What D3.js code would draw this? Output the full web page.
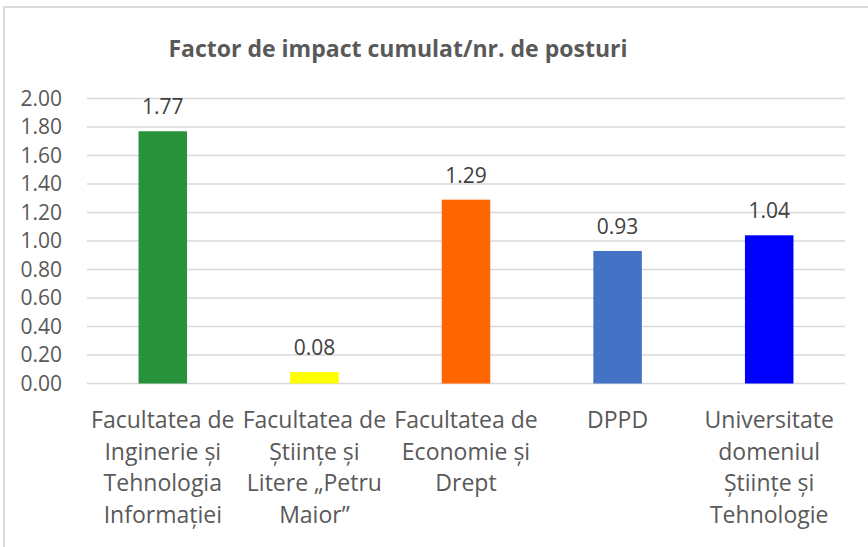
<html>
<head>
<meta charset="utf-8">
<script src="https://d3js.org/d3.v7.min.js"></script>
<style>
  body { margin: 0; background: #fff; }
  svg { display: block; }
  text { font-family: "Open Sans", Lato, sans-serif; }
</style>
</head>
<body>
<svg id="chart" width="868" height="547"></svg>
<script>
// data
const categories = [
  ["Facultatea de", "Inginerie și", "Tehnologia", "Informației"],
  ["Facultatea de", "Științe și", "Litere „Petru", "Maior”"],
  ["Facultatea de", "Economie și", "Drept"],
  ["DPPD"],
  ["Universitate", "domeniul", "Științe și", "Tehnologie"]
];
const values = [1.77, 0.08, 1.29, 0.93, 1.04];
const barColors = ["#27923a", "#ffff00", "#ff6600", "#4472c4", "#0000ff"];
const yTicks = [0, 0.2, 0.4, 0.6, 0.8, 1.0, 1.2, 1.4, 1.6, 1.8, 2.0];
const title = "Factor de impact cumulat/nr. de posturi";

const FONT = "'Open Sans', Lato, sans-serif";
const svg = d3.select("#chart");
const plot = { left: 87, right: 845, top: 98.5, bottom: 383.5 };

// chart frame (runs off right/bottom like the screenshot)
svg.append("rect")
  .attr("x", 4).attr("y", 7)
  .attr("width", 900).attr("height", 600)
  .attr("fill", "#fff")
  .attr("stroke", "#d9d9d9")
  .attr("stroke-width", 2);

const x = d3.scaleBand()
  .domain(d3.range(values.length))
  .range([plot.left, plot.right])
  .paddingInner(0.68)
  .paddingOuter(0.34);

const y = d3.scaleLinear()
  .domain([0, 2])
  .range([plot.bottom, plot.top]);

// gridlines
svg.append("g")
  .selectAll("line")
  .data(yTicks)
  .join("line")
  .attr("x1", plot.left).attr("x2", plot.right)
  .attr("y1", d => y(d)).attr("y2", d => y(d))
  .attr("stroke", "#d9d9d9")
  .attr("stroke-width", 1.5);

// y axis labels
const yAxis = d3.axisLeft(y).tickValues(yTicks).tickFormat(d3.format(".2f")).tickSize(0).tickPadding(0);
svg.append("g")
  .attr("transform", "translate(62,0)")
  .call(yAxis)
  .attr("font-family", FONT)
  .attr("font-size", 21)
  .call(g => g.select(".domain").remove())
  .selectAll("text")
  .attr("fill", "#595959");

// bars
svg.append("g")
  .selectAll("rect")
  .data(values)
  .join("rect")
  .attr("x", (d, i) => x(i))
  .attr("width", x.bandwidth())
  .attr("y", d => y(d))
  .attr("height", d => y(0) - y(d))
  .attr("fill", (d, i) => barColors[i]);

// data labels
svg.append("g")
  .selectAll("text")
  .data(values)
  .join("text")
  .attr("x", (d, i) => x(i) + x.bandwidth() / 2)
  .attr("y", d => y(d) - 17)
  .attr("text-anchor", "middle")
  .attr("fill", "#404040")
  .attr("font-size", 21)
  .text(d => d3.format(".2f")(d));

// category labels
const cat = svg.append("g")
  .selectAll("text")
  .data(categories)
  .join("text")
  .attr("text-anchor", "middle")
  .attr("fill", "#595959")
  .attr("font-size", 23);
cat.selectAll("tspan")
  .data((d, i) => d.map(line => ({ line, i })))
  .join("tspan")
  .attr("x", d => x(d.i) + x.bandwidth() / 2)
  .attr("y", (d, j) => 428 + j * 31.7)
  .text(d => d.line);

// title
svg.append("text")
  .attr("x", 398)
  .attr("y", 57)
  .attr("text-anchor", "middle")
  .attr("fill", "#595959")
  .attr("font-size", 23)
  .attr("font-weight", "bold")
  .text(title);
</script>
</body>
</html>
